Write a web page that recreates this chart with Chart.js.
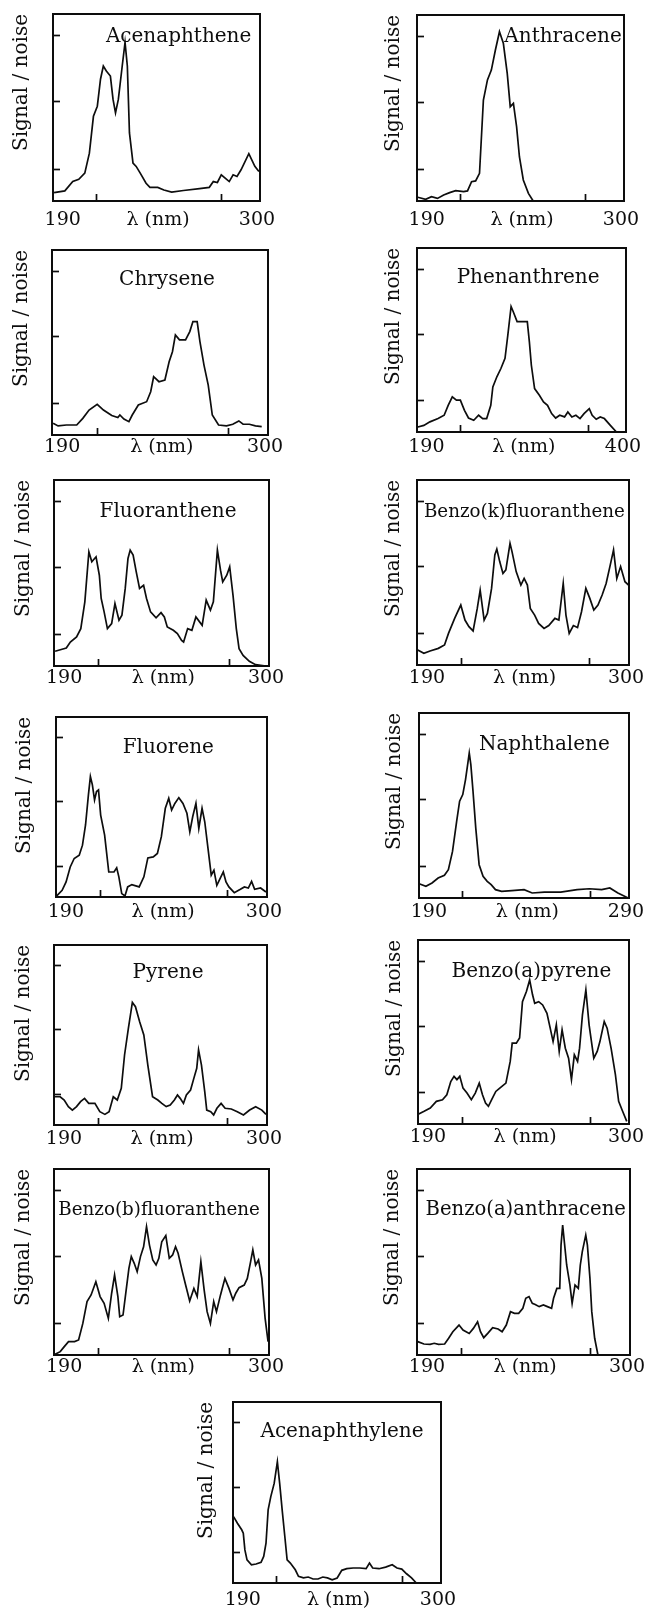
<!DOCTYPE html>
<html>
<head>
<meta charset="utf-8">
<script src="https://cdn.jsdelivr.net/npm/chart.js@4.4.0/dist/chart.umd.min.js"></script>
<style>
html, body { margin: 0; padding: 0; background: #fff; overflow: hidden; }
#page { position: relative; width: 649px; height: 1610px; overflow: hidden; }
</style>
</head>
<body>
<div id="page"></div>
<script>
// Spectra: wavelength (nm) and signal/noise (0-100 of the frame height)
const acenaphtheneNm = [185.1,191.2,195.7,199.1,202.5,205.1,207.4,209.6,211.4,213.0,214.7,217.0,218.5,219.9,221.5,223.7,225.3,226.6,227.8,229.8,231.6,233.9,237.2,239.4,243.8,247.3,251.7,258.4,267.5,273.0,275.3,277.6,279.8,282.0,284.3,286.5,288.7,291.0,295.4,298.8,301.1];
const acenaphtheneSN = [4.5,5.4,10.4,11.6,14.9,25.6,45.3,50.7,65.1,72.2,69.5,66.8,54.3,47.1,54.3,72.2,84.8,72.2,36.4,20.3,18.5,14.9,9.5,7.3,7.3,5.9,4.8,5.6,6.6,7.3,10.4,9.9,14.0,12.2,10.4,14.0,13.1,16.7,25.3,18.5,15.8];

const anthraceneNm = [184.9,189.4,192.7,196.1,199.6,203.0,206.4,210.9,213.1,215.4,217.7,219.9,222.1,224.4,226.6,228.9,231.2,233.4,235.6,237.3,239.1,240.9,242.5,244.7,247.6,250.3];
const anthraceneSN = [2.0,0.9,2.3,1.4,3.2,4.5,5.6,5.0,5.4,10.4,10.8,14.9,54.3,65.1,70.4,81.2,91.0,84.8,68.6,50.7,52.5,40.0,23.8,11.3,4.1,0];

const chryseneNm = [185.1,187.8,192.3,197.9,201.2,204.6,209.0,212.4,216.9,220.2,221.3,223.5,226.2,228.0,231.3,235.8,238.0,239.6,242.5,245.7,248.0,249.8,251.4,253.6,256.9,259.2,260.9,263.2,264.7,266.9,269.2,271.4,274.8,279.1,282.5,285.8,288.1,291.5,294.8,298.2];
const chryseneSN = [6.3,4.9,5.4,5.4,9.0,13.5,16.6,13.5,10.5,9.4,10.8,8.6,7.2,10.8,16.2,18.0,23.4,31.5,28.8,29.7,39.6,45.0,54.1,51.4,51.4,55.9,61.3,61.3,50.5,37.8,27.0,10.8,5.4,4.9,5.8,7.6,5.8,5.8,4.9,4.5];

const phenanthreneNm = [180.9,187.3,193.8,202.5,209.0,213.3,217.7,222.1,226.3,230.7,235.0,240.6,245.8,250.2,254.4,258.8,261.0,265.3,269.6,274.0,277.0,280.5,282.7,286.9,291.3,297.8,300.0,302.1,305.6,310.7,315.1,319.4,323.8,328.1,332.4,337.6,341.1,345.4,349.7,354.1,358.4,364.0,367.1,371.4,375.7,380.1,386.5,393.0];
const phenanthreneSN = [2.7,3.6,5.5,7.3,9.1,14.5,19.1,17.3,17.3,11.8,7.6,6.4,9.1,7.3,7.3,14.5,24.5,30.0,34.5,40.0,52.7,68.2,65.5,60.0,60.0,60.0,49.1,36.4,23.6,20.0,16.4,14.5,10.0,7.6,9.1,8.2,10.9,8.2,9.1,7.3,10.0,12.7,9.1,6.9,8.2,7.3,3.6,0];

const fluorantheneNm = [185.1,188.9,191.2,193.4,196.8,199.1,201.3,203.5,205.1,207.4,209.2,210.2,211.8,213.6,215.9,217.7,219.9,221.5,223.3,224.8,226.0,227.6,229.3,231.1,233.3,234.9,237.1,240.1,242.8,244.6,246.2,249.5,251.7,254.0,255.1,257.3,259.6,261.8,265.2,267.4,269.7,271.3,273.5,275.2,276.4,278.6,280.2,282.0,283.8,285.3,287.5,290.9,294.3,299.9];
const fluorantheneSN = [7.9,9.0,9.7,12.9,15.6,20.1,34.5,61.4,56.0,58.7,48.8,36.3,29.1,20.1,22.8,33.6,24.6,27.3,41.7,57.8,62.3,59.6,50.6,41.7,43.4,36.3,29.1,25.9,28.7,26.4,21.0,19.2,17.4,13.8,12.9,20.1,19.2,26.4,21.9,35.4,30.0,34.5,62.3,51.5,45.2,48.8,53.3,38.1,20.1,9.3,5.7,2.5,0.7,0];

const benzoKNm = [184.9,188.3,191.7,196.3,199.7,201.9,205.3,208.7,211.0,213.2,215.5,217.8,219.4,221.6,223.4,225.7,227.5,228.6,230.2,232.0,233.6,235.9,237.0,239.3,241.9,243.7,245.5,247.1,249.5,251.7,254.7,257.3,260.7,262.9,265.3,266.8,268.6,270.9,273.2,275.4,277.8,280.0,282.2,284.5,286.8,289.0,291.3,293.1,294.9,297.0,299.4,301.4];
const benzoKSN = [8.1,6.3,7.6,9.0,10.8,17.1,25.2,32.4,24.3,20.7,18.4,30.6,40.5,24.3,27.9,41.4,59.5,62.7,55.9,49.5,51.4,65.8,61.3,50.5,43.2,46.8,43.2,30.6,27.0,22.5,19.8,21.3,25.2,24.3,44.1,27.0,17.1,21.3,20.2,28.8,41.4,36.0,29.7,32.4,37.8,44.1,54.1,62.2,46.8,53.2,45.0,43.2];

const fluoreneNm = [184.9,187.9,190.1,192.4,194.6,197.4,199.2,200.9,202.5,203.6,204.7,205.9,207.0,208.1,209.3,211.5,213.8,216.7,218.2,219.4,221.0,222.8,224.3,226.6,230.7,233.3,235.5,238.5,240.8,243.0,245.2,247.1,248.7,250.5,252.7,255.0,257.2,258.8,260.4,262.2,263.8,265.6,267.1,268.9,270.7,272.2,273.8,275.6,277.4,278.9,280.5,283.5,286.9,289.1,291.3,293.1,294.8,298.1,301.1];
const fluoreneSN = [0.6,3.7,8.4,16.7,21.4,23.2,28.8,40.0,56.7,66.9,62.3,53.9,58.6,59.5,45.5,34.4,13.9,13.9,16.2,11.2,1.9,0.6,5.6,6.9,5.6,11.2,21.7,22.3,24.2,33.5,49.3,54.8,48.3,52.0,55.2,52.0,46.5,36.2,44.6,52.0,38.1,49.3,41.8,27.0,12.1,14.9,6.5,10.2,13.9,8.4,5.6,2.4,4.3,5.6,5.0,8.7,4.3,5.0,2.8];

const naphthaleneNm = [185.4,188.5,191.6,194.7,197.9,199.9,202.0,204.1,205.6,207.2,208.6,209.8,210.5,211.3,212.4,213.8,215.5,217.5,219.6,221.6,223.8,226.9,232.1,238.3,242.4,248.6,256.9,265.2,271.4,277.7,281.8,285.9,291.1];
const naphthaleneSN = [7.6,6.3,8.1,10.8,12.3,15.3,25.2,41.4,52.3,55.9,64.0,73.0,78.4,72.1,57.7,37.8,18.0,11.7,9.0,7.2,4.5,3.6,4.0,4.5,2.7,3.2,3.2,4.5,5.0,4.5,5.4,2.7,0];

const pyreneNm = [184.9,187.9,190.1,192.4,194.6,196.9,199.1,201.3,203.6,207.0,209.7,212.5,214.8,217.1,219.3,221.5,223.3,225.4,227.6,229.3,231.6,233.9,236.1,238.7,241.6,243.8,246.2,248.4,250.7,252.4,253.9,255.7,257.3,259.6,261.4,263.0,264.0,265.6,267.4,268.5,270.7,272.3,274.1,276.4,278.6,282.0,285.3,288.7,292.1,295.4,298.8,301.1];
const pyreneSN = [15.7,15.7,13.9,10.2,8.3,10.2,13.0,14.8,12.0,12.0,7.4,5.9,7.4,15.7,13.9,20.4,38.9,53.7,68.1,65.7,57.4,50.0,33.3,15.7,13.9,12.0,10.2,11.1,13.9,16.7,14.8,12.0,16.7,19.4,25.9,31.5,41.7,33.3,18.5,8.3,7.4,5.6,9.3,12.0,9.3,8.9,7.4,5.6,8.3,10.2,8.3,5.9];

const benzoAPyreneNm = [184.9,187.9,191.3,194.7,198.1,200.5,202.7,204.5,206.1,207.7,209.5,211.7,214.1,216.3,218.5,220.3,222.0,223.6,225.4,227.7,229.9,233.3,235.7,236.8,239.1,240.9,242.5,244.7,246.5,248.1,249.3,251.5,253.7,256.1,257.9,259.5,261.3,262.9,264.5,266.3,268.1,269.7,271.3,273.1,274.2,275.8,277.7,279.5,282.1,284.0,285.5,287.9,289.5,291.7,294.1,295.9,298.1,300.4];
const benzoAPyreneSN = [5.4,6.9,8.7,12.3,13.2,15.9,23.1,25.9,24.1,25.9,19.5,16.8,13.2,16.8,22.2,15.9,11.4,9.6,13.2,17.7,19.5,22.2,34.0,43.9,43.9,46.7,66.5,72.0,78.3,70.2,65.6,66.5,64.7,60.2,52.1,44.8,53.9,39.4,51.2,41.2,35.8,24.1,37.6,34.0,41.2,59.3,72.9,53.9,35.8,39.4,44.8,55.7,52.1,41.2,26.8,12.3,6.9,1.4];

const benzoBNm = [185.1,187.9,190.1,192.4,195.7,197.9,200.2,202.5,204.7,207.3,209.6,211.8,214.1,215.9,217.5,219.3,220.3,222.1,223.7,225.3,226.6,228.2,229.8,231.6,233.3,234.9,236.5,238.3,240.1,241.6,243.2,245.4,247.3,249.1,250.7,252.1,254.4,256.2,258.4,260.7,262.5,264.5,266.3,267.9,269.7,271.5,273.0,275.2,277.6,279.8,282.0,283.5,285.3,288.1,289.8,291.6,292.8,294.3,295.9,297.7,299.5,301.1];
const benzoBSN = [0.4,1.8,4.5,7.2,7.2,8.1,17.0,28.7,32.3,39.4,31.4,27.8,19.7,33.2,43.0,31.4,20.6,21.5,34.1,46.6,52.9,49.3,44.8,52.9,58.2,69.0,59.1,51.1,48.4,52.0,60.9,64.2,52.0,53.8,58.2,54.7,44.8,37.6,29.0,35.8,31.4,50.2,34.9,23.3,17.0,28.7,23.3,32.3,41.2,35.8,29.6,33.2,36.2,37.6,41.2,50.2,56.5,48.4,51.1,41.2,19.7,7.2];

const benzoAAnthNm = [184.9,188.3,191.7,194.0,196.3,199.7,201.9,204.2,207.6,209.8,213.2,215.5,217.8,219.4,221.2,223.4,226.1,229.1,231.3,233.6,235.9,238.1,240.4,242.7,244.3,246.1,247.9,249.5,251.7,254.0,256.2,258.5,259.6,261.4,263.0,263.7,264.6,265.7,266.8,268.6,269.8,271.4,273.2,274.3,275.4,277.3,278.2,279.6,280.6,282.2,284.0];
const benzoAAnthSN = [7.2,5.9,5.7,6.3,5.7,5.9,9.0,12.5,16.1,13.4,11.6,14.3,17.9,12.5,9.3,11.6,14.7,14.0,12.5,16.1,23.3,22.4,22.4,25.1,30.5,31.4,27.8,27.2,26.0,26.9,26.0,25.1,30.5,35.8,35.8,59.1,69.9,59.1,48.4,37.6,27.8,37.6,35.8,48.4,55.6,64.5,59.1,41.2,23.3,9.0,0];

const acenaphthyleneNm = [184.8,187.0,189.4,190.3,191.2,192.4,194.9,197.5,200.3,201.8,203.1,204.3,205.8,207.7,209.5,210.8,212.2,213.7,215.0,216.8,219.6,221.4,224.2,226.9,229.6,232.4,235.1,237.7,240.4,243.2,245.8,248.6,252.2,255.9,259.5,261.4,263.2,266.8,270.5,274.2,276.9,279.6,282.3,285.1,287.8];
const acenaphthyleneSN = [36.7,33.0,29.4,27.5,18.3,12.8,10.1,10.5,11.4,14.7,22.0,40.4,47.7,55.0,67.0,55.0,40.4,25.7,12.8,11.0,7.3,3.7,2.8,3.3,2.2,2.2,3.3,2.8,1.8,2.8,7.0,7.9,8.3,8.3,7.9,11.0,8.3,7.9,8.8,10.1,8.3,7.7,5.1,2.8,0];

// Axes: end labels plus three inner tick marks (empty label = tick mark)
const range300 = [184.5, 301.5];
const ticks300 = [190, 209, 244, 280, 300];
const labels300 = ['190', '', 'λ (nm)', '', '300'];
const range400 = [180, 403];
const ticks400 = [190, 226, 294, 363, 400];
const labels400 = ['190', '', 'λ (nm)', '', '400'];
const range290 = [185, 291.5];
const ticks290 = [190, 207, 240, 272, 290];
const labels290 = ['190', '', 'λ (nm)', '', '290'];
const snTicks = [17, 53, 88.5];

const ink = '#0d0d0d';
Chart.defaults.font.family = '"DejaVu Serif", serif';
Chart.defaults.color = ink;

// box = frame left, top, width, height on the page; title = [x fraction, baseline below top, font size]
const panels = [
  { name: 'Acenaphthene', nm: acenaphtheneNm, sn: acenaphtheneSN, range: range300, ticks: ticks300, labels: labels300, box: [53, 14, 215, 187], yGap: 31, xGap: 19, title: [0.608, 28, 20] },
  { name: 'Anthracene', nm: anthraceneNm, sn: anthraceneSN, range: range300, ticks: ticks300, labels: labels300, box: [417, 15, 215, 186], yGap: 23, xGap: 19, title: [0.707, 27, 20] },
  { name: 'Chrysene', nm: chryseneNm, sn: chryseneSN, range: range300, ticks: ticks300, labels: labels300, box: [52, 250, 217, 185], yGap: 30, xGap: 12, title: [0.533, 35, 20] },
  { name: 'Phenanthrene', nm: phenanthreneNm, sn: phenanthreneSN, range: range400, ticks: ticks400, labels: labels400, box: [417, 248, 213, 184], yGap: 23, xGap: 15, title: [0.532, 35, 20] },
  { name: 'Fluoranthene', nm: fluorantheneNm, sn: fluorantheneSN, range: range300, ticks: ticks300, labels: labels300, box: [54, 480, 216, 186], yGap: 30, xGap: 12, title: [0.531, 37, 20] },
  { name: 'Benzo(k)fluoranthene', nm: benzoKNm, sn: benzoKSN, range: range300, ticks: ticks300, labels: labels300, box: [417, 480, 214, 185], yGap: 23, xGap: 13, title: [0.507, 37, 18.3] },
  { name: 'Fluorene', nm: fluoreneNm, sn: fluoreneSN, range: range300, ticks: ticks300, labels: labels300, box: [56, 717, 215, 180], yGap: 31, xGap: 15, title: [0.533, 36, 20] },
  { name: 'Naphthalene', nm: naphthaleneNm, sn: naphthaleneSN, range: range290, ticks: ticks290, labels: labels290, box: [419, 713, 213, 185], yGap: 24, xGap: 14, title: [0.597, 37, 20] },
  { name: 'Pyrene', nm: pyreneNm, sn: pyreneSN, range: range300, ticks: ticks300, labels: labels300, box: [54, 945, 216, 180], yGap: 30, xGap: 14, title: [0.536, 33, 20] },
  { name: 'Benzo(a)pyrene', nm: benzoAPyreneNm, sn: benzoAPyreneSN, range: range300, ticks: ticks300, labels: labels300, box: [418, 940, 213, 184], yGap: 23, xGap: 13, title: [0.538, 37, 20] },
  { name: 'Benzo(b)fluoranthene', nm: benzoBNm, sn: benzoBSN, range: range300, ticks: ticks300, labels: labels300, box: [54, 1169, 216, 186], yGap: 30, xGap: 12, title: [0.489, 46, 18.3] },
  { name: 'Benzo(a)anthracene', nm: benzoAAnthNm, sn: benzoAAnthSN, range: range300, ticks: ticks300, labels: labels300, box: [417, 1169, 214, 186], yGap: 24, xGap: 12, title: [0.511, 46, 19.6] },
  { name: 'Acenaphthylene', nm: acenaphthyleneNm, sn: acenaphthyleneSN, range: range300, ticks: ticks300, labels: labels300, box: [233, 1402, 214, 181], yGap: 26, xGap: 17, title: [0.525, 35, 20] }
];

// compound name written inside the frame
const innerTitle = {
  id: 'innerTitle',
  afterDraw(chart, args, opts) {
    const a = chart.chartArea;
    const ctx = chart.ctx;
    ctx.save();
    ctx.font = opts.size + 'px "DejaVu Serif"';
    ctx.fillStyle = ink;
    ctx.textAlign = 'center';
    ctx.textBaseline = 'alphabetic';
    ctx.fillText(opts.text, a.left + opts.fx * (a.right - a.left), a.top + opts.base);
    ctx.restore();
  }
};

function drawPanel(p) {
  const yW = p.yGap + 12, topH = 4, rightW = 24, xH = 40;
  const w = yW + p.box[2] + rightW;
  const h = topH + p.box[3] + xH;
  const canvas = document.createElement('canvas');
  canvas.width = w;
  canvas.height = h;
  canvas.style.cssText = 'position:absolute;left:' + (p.box[0] - yW) + 'px;top:' + (p.box[1] - topH) + 'px;width:' + w + 'px;height:' + h + 'px';
  document.getElementById('page').appendChild(canvas);

  const points = p.nm.map((x, i) => ({ x: x, y: p.sn[i] }));
  const frame = { color: ink, width: 2 };

  new Chart(canvas, {
    type: 'line',
    data: {
      datasets: [{ data: points, borderColor: ink, borderWidth: 1.7, pointRadius: 0, tension: 0, fill: false }]
    },
    options: {
      responsive: false,
      animation: false,
      devicePixelRatio: 1,
      layout: { padding: 0 },
      plugins: {
        legend: { display: false },
        tooltip: { enabled: false },
        innerTitle: { text: p.name, fx: p.title[0], base: p.title[1], size: p.title[2] }
      },
      scales: {
        x: {
          type: 'linear', position: 'bottom', min: p.range[0], max: p.range[1],
          afterBuildTicks: s => { s.ticks = p.ticks.map(v => ({ value: v })); },
          afterFit: s => { s.height = xH; },
          ticks: {
            autoSkip: false, maxRotation: 0, minRotation: 0,
            padding: p.xGap - 2.5,
            font: { size: 19, lineHeight: 1 },
            color: ink,
            callback: (v, i) => p.labels[i]
          },
          grid: {
            drawOnChartArea: false, tickLength: -7, tickWidth: 1.7,
            tickColor: c => p.labels[c.index] === '' ? ink : 'rgba(0,0,0,0)'
          },
          border: frame
        },
        xTop: {
          type: 'linear', position: 'top', min: p.range[0], max: p.range[1],
          afterFit: s => { s.height = topH; },
          ticks: { display: false },
          grid: { drawOnChartArea: false, drawTicks: false },
          border: frame
        },
        y: {
          type: 'linear', position: 'left', min: 0, max: 100,
          afterBuildTicks: s => { s.ticks = snTicks.map(v => ({ value: v })); },
          afterFit: s => { s.width = yW; },
          ticks: { display: false },
          grid: { drawOnChartArea: false, tickLength: -7, tickWidth: 1.7, tickColor: ink },
          border: frame,
          title: {
            display: true, text: 'Signal / noise', align: 'end', color: ink,
            font: { size: 20, lineHeight: 1 },
            padding: { top: 2, bottom: 0 }
          }
        },
        yRight: {
          type: 'linear', position: 'right', min: 0, max: 100,
          afterFit: s => { s.width = rightW; },
          ticks: { display: false },
          grid: { drawOnChartArea: false, drawTicks: false },
          border: frame
        }
      }
    },
    plugins: [innerTitle]
  });
}

panels.forEach(drawPanel);
</script>
</body>
</html>
